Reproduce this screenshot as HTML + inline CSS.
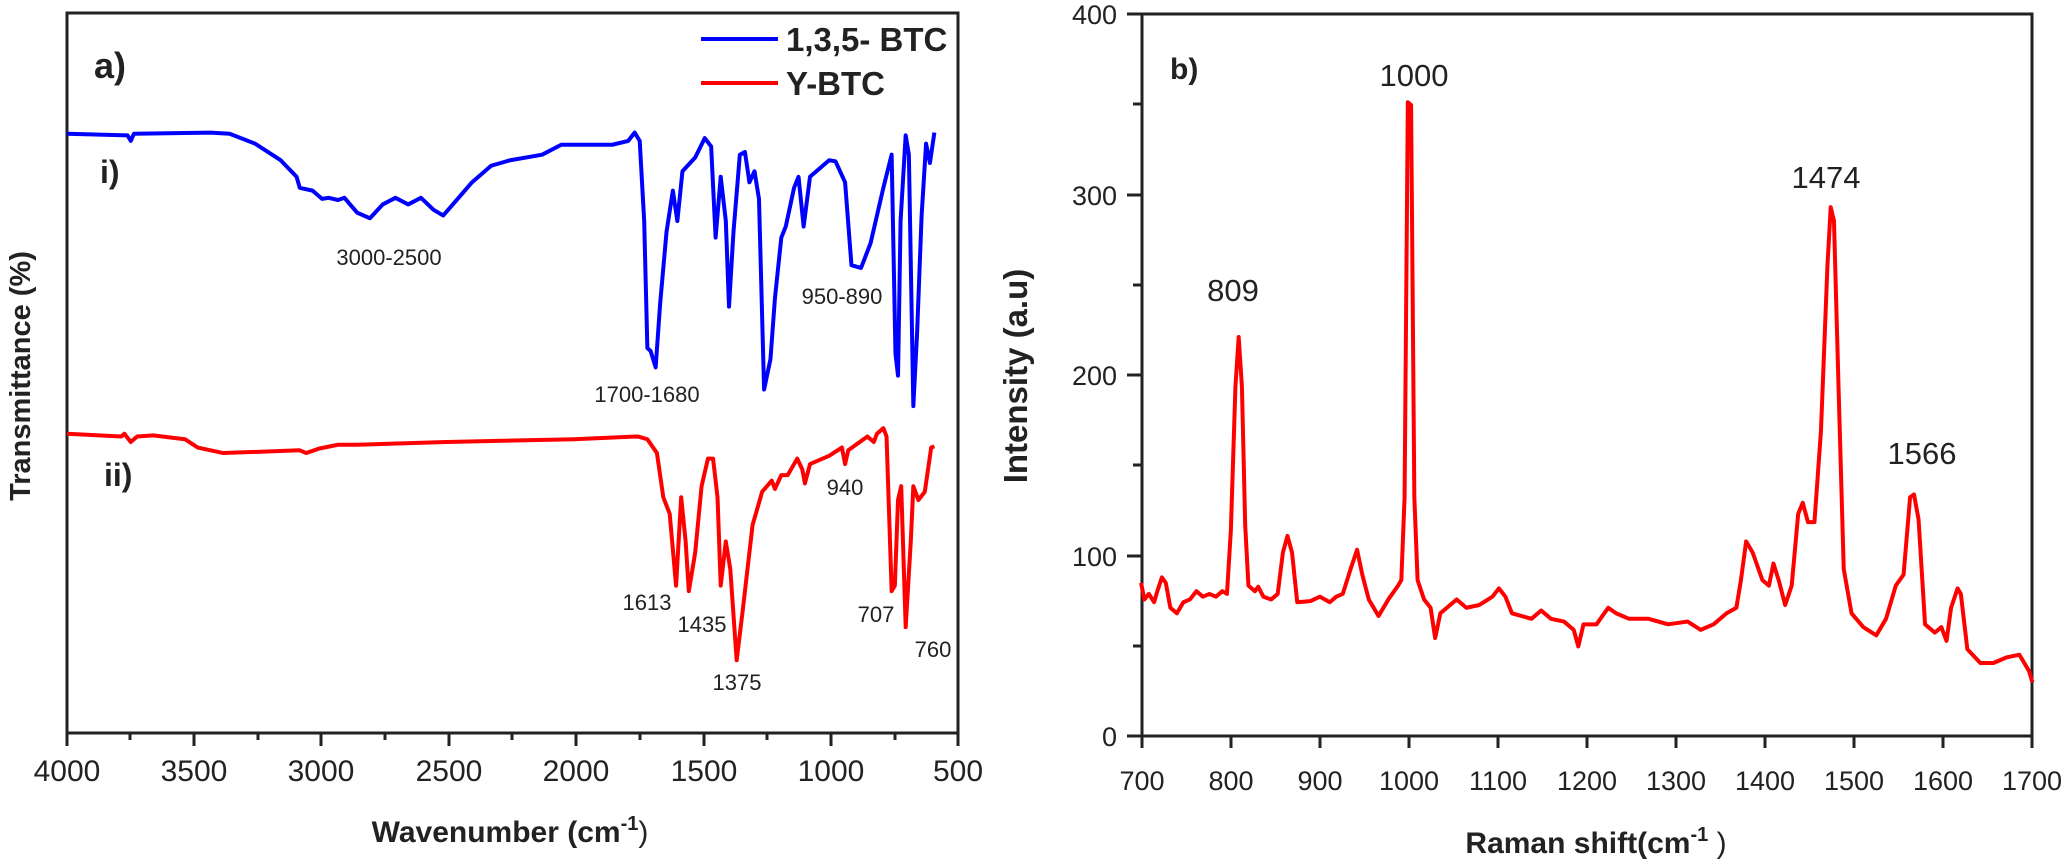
<!DOCTYPE html>
<html><head><meta charset="utf-8"><style>
html,body{margin:0;padding:0;background:#fff;}
svg{display:block;}
text{font-family:"Liberation Sans",Arial,sans-serif;fill:#222;}
</style></head><body>
<svg width="2070" height="866" viewBox="0 0 2070 866" xmlns="http://www.w3.org/2000/svg">
<!-- LEFT PANEL -->
<rect x="67" y="13" width="891" height="720" fill="none" stroke="#222" stroke-width="3"/>
<g stroke="#222" stroke-width="3">
<line x1="67" y1="733" x2="67" y2="746"/><line x1="194" y1="733" x2="194" y2="746"/><line x1="321" y1="733" x2="321" y2="746"/><line x1="449" y1="733" x2="449" y2="746"/><line x1="576" y1="733" x2="576" y2="746"/><line x1="704" y1="733" x2="704" y2="746"/><line x1="831" y1="733" x2="831" y2="746"/><line x1="958" y1="733" x2="958" y2="746"/>
<line x1="130" y1="733" x2="130" y2="740"/><line x1="258" y1="733" x2="258" y2="740"/><line x1="385" y1="733" x2="385" y2="740"/><line x1="512" y1="733" x2="512" y2="740"/><line x1="640" y1="733" x2="640" y2="740"/><line x1="767" y1="733" x2="767" y2="740"/><line x1="895" y1="733" x2="895" y2="740"/>
</g>
<g font-size="30" text-anchor="middle">
<text x="67" y="781">4000</text><text x="194" y="781">3500</text><text x="321" y="781">3000</text><text x="449" y="781">2500</text><text x="576" y="781">2000</text><text x="704" y="781">1500</text><text x="831" y="781">1000</text><text x="958" y="781">500</text>
</g>
<text x="510" y="842" font-size="30" font-weight="bold" text-anchor="middle">Wavenumber (cm<tspan font-size="20" dy="-12">-1</tspan><tspan dy="12" font-weight="normal">)</tspan></text>
<text transform="translate(30,376) rotate(-90)" font-size="29" font-weight="bold" text-anchor="middle">Transmittance (%)</text>
<text x="94" y="78" font-size="36" font-weight="bold">a)</text>
<text x="100" y="183" font-size="32" font-weight="bold">i)</text>
<text x="104" y="486" font-size="32" font-weight="bold">ii)</text>
<line x1="701" y1="39" x2="778" y2="39" stroke="#0000ff" stroke-width="4"/>
<text x="786" y="51" font-size="33" font-weight="bold">1,3,5- BTC</text>
<line x1="701" y1="83" x2="778" y2="83" stroke="#ff0000" stroke-width="4"/>
<text x="786" y="95" font-size="33" font-weight="bold">Y-BTC</text>
<g transform="scale(0.6378,0.5525)" fill="none" stroke-linejoin="round">
<polyline stroke="#0000ff" stroke-width="4" vector-effect="non-scaling-stroke" points="105,242 200,245 205,255 210,242 330,240 360,242 400,260 440,290 465,320 470,340 490,345 505,360 515,358 530,362 540,358 560,385 580,395 600,370 620,358 640,370 660,358 680,380 695,390 710,370 740,330 770,300 800,290 850,280 880,262 960,262 985,255 995,240 1003,255 1010,400 1015,630 1020,635 1028,665 1035,550 1045,420 1055,345 1062,400 1070,310 1090,285 1105,250 1115,265 1122,430 1130,320 1138,400 1143,555 1150,420 1160,280 1168,275 1175,330 1183,310 1190,360 1198,705 1208,650 1215,540 1225,430 1232,410 1245,340 1252,320 1260,410 1270,320 1300,290 1310,292 1325,330 1335,480 1350,485 1365,440 1385,340 1398,280 1404,640 1408,680 1412,400 1420,245 1425,280 1432,735 1438,600 1445,390 1452,260 1458,295 1465,240"/>
<polyline stroke="#ff0000" stroke-width="4" vector-effect="non-scaling-stroke" points="105,785 190,790 195,785 205,800 215,790 240,788 290,795 310,810 350,820 470,815 480,820 500,812 530,805 560,805 700,800 900,795 1000,790 1015,795 1030,820 1040,900 1050,930 1060,1060 1068,900 1075,980 1080,1070 1090,1000 1100,880 1110,830 1118,830 1125,900 1130,1060 1138,980 1145,1030 1155,1195 1165,1100 1180,950 1195,890 1210,870 1215,885 1225,860 1235,860 1250,830 1258,850 1262,875 1270,840 1300,825 1320,810 1325,840 1330,815 1360,790 1370,800 1375,785 1385,775 1390,790 1398,1070 1403,1060 1408,905 1413,880 1420,1135 1428,980 1432,880 1440,905 1450,890 1460,810 1465,808"/>
</g>
<g font-size="22" text-anchor="middle">
<text x="389" y="265">3000-2500</text>
<text x="647" y="402">1700-1680</text>
<text x="842" y="304">950-890</text>
<text x="647" y="610">1613</text>
<text x="702" y="632">1435</text>
<text x="737" y="690">1375</text>
<text x="845" y="495">940</text>
<text x="876" y="622">707</text>
<text x="933" y="657">760</text>
</g>
<!-- RIGHT PANEL -->
<rect x="1142" y="14" width="890" height="722" fill="none" stroke="#222" stroke-width="3"/>
<g stroke="#222" stroke-width="3">
<line x1="1127" y1="14" x2="1142" y2="14"/><line x1="1133" y1="104" x2="1142" y2="104"/><line x1="1127" y1="195" x2="1142" y2="195"/><line x1="1133" y1="285" x2="1142" y2="285"/><line x1="1127" y1="375" x2="1142" y2="375"/><line x1="1133" y1="465" x2="1142" y2="465"/><line x1="1127" y1="556" x2="1142" y2="556"/><line x1="1133" y1="646" x2="1142" y2="646"/><line x1="1127" y1="736" x2="1142" y2="736"/>
<line x1="1142" y1="736" x2="1142" y2="748"/><line x1="1231" y1="736" x2="1231" y2="748"/><line x1="1320" y1="736" x2="1320" y2="748"/><line x1="1409" y1="736" x2="1409" y2="748"/><line x1="1498" y1="736" x2="1498" y2="748"/><line x1="1587" y1="736" x2="1587" y2="748"/><line x1="1676" y1="736" x2="1676" y2="748"/><line x1="1765" y1="736" x2="1765" y2="748"/><line x1="1854" y1="736" x2="1854" y2="748"/><line x1="1943" y1="736" x2="1943" y2="748"/><line x1="2032" y1="736" x2="2032" y2="748"/>
</g>
<g font-size="27" text-anchor="end">
<text x="1117" y="24">400</text><text x="1117" y="205">300</text><text x="1117" y="385">200</text><text x="1117" y="566">100</text><text x="1117" y="746">0</text>
</g>
<g font-size="27" text-anchor="middle">
<text x="1142" y="790">700</text><text x="1231" y="790">800</text><text x="1320" y="790">900</text><text x="1409" y="790">1000</text><text x="1498" y="790">1100</text><text x="1587" y="790">1200</text><text x="1676" y="790">1300</text><text x="1765" y="790">1400</text><text x="1854" y="790">1500</text><text x="1943" y="790">1600</text><text x="2032" y="790">1700</text>
</g>
<text x="1596" y="853" font-size="30" font-weight="bold" text-anchor="middle">Raman shift(cm<tspan font-size="20" dy="-12">-1</tspan><tspan dy="12" font-weight="normal"> )</tspan></text>
<text transform="translate(1027,376) rotate(-90)" font-size="33" font-weight="bold" text-anchor="middle">Intensity (a.u)</text>
<text x="1170" y="79" font-size="30" font-weight="bold">b)</text>
<g font-size="31" text-anchor="middle">
<text x="1233" y="301">809</text>
<text x="1414" y="86">1000</text>
<text x="1826" y="188">1474</text>
<text x="1922" y="464">1566</text>
</g>
<g transform="translate(1050,0) scale(0.6506,0.5525)" fill="none" stroke-linejoin="round">
<polyline stroke="#ff0000" stroke-width="4" vector-effect="non-scaling-stroke" points="140,1055 145,1085 152,1075 160,1090 165,1070 172,1045 178,1055 185,1100 195,1110 205,1090 215,1085 225,1070 235,1080 245,1075 255,1080 265,1070 272,1075 278,960 285,700 290,610 295,700 300,950 305,1060 315,1070 320,1062 328,1080 340,1085 350,1075 358,1000 365,970 372,1000 380,1090 400,1088 415,1080 430,1090 440,1080 450,1075 462,1030 472,995 480,1040 490,1085 505,1115 520,1085 535,1060 540,1050 545,900 550,185 555,190 560,900 565,1050 575,1085 585,1100 592,1155 600,1110 610,1100 625,1085 640,1100 660,1095 680,1080 690,1065 700,1080 710,1110 740,1120 755,1105 770,1120 790,1125 805,1140 812,1170 820,1130 840,1130 858,1100 870,1110 890,1120 920,1120 950,1130 980,1125 1000,1140 1020,1130 1040,1110 1055,1100 1062,1050 1070,980 1080,1000 1095,1050 1105,1060 1112,1020 1120,1050 1130,1095 1140,1060 1150,930 1157,910 1165,945 1175,945 1185,780 1195,480 1200,375 1205,400 1212,700 1220,1030 1232,1110 1250,1135 1270,1150 1285,1120 1300,1060 1312,1040 1322,900 1328,895 1335,940 1345,1130 1360,1145 1370,1135 1378,1160 1385,1100 1395,1065 1400,1075 1410,1175 1430,1200 1450,1200 1470,1190 1490,1185 1505,1215 1510,1235"/>
</g>
</svg>
</body></html>
